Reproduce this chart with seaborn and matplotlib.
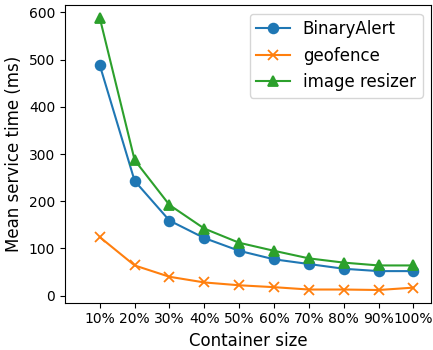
import seaborn as sns
import matplotlib.pyplot as plt

# data
sizes = ["10%", "20%", "30%", "40%", "50%", "60%", "70%", "80%", "90%", "100%"]
binary_alert = [488, 243, 159, 122, 95, 77, 67, 57, 52, 52]
geofence = [124, 64, 40, 28, 22, 18, 13, 13, 12, 17]
image_resizer = [588, 287, 192, 142, 112, 95, 79, 70, 64, 64]

names = ["BinaryAlert", "geofence", "image resizer"]
values = [binary_alert, geofence, image_resizer]
colors = ["#1f77b4", "#ff7f0e", "#2ca02c"]
markers = ["o", "x", "^"]
pos = list(range(len(sizes)))

fig, ax = plt.subplots(figsize=(4.33, 3.5), dpi=100)
for name, vals, c, m in zip(names, values, colors, markers):
    sns.lineplot(x=pos, y=vals, color=c, marker=m, markersize=7,
                 markeredgecolor=c, markeredgewidth=1.3, label=name, ax=ax)

ax.set_xticks(pos)
ax.set_xticklabels(sizes)
ax.set_xlim(-1, 9.5)
ax.set_ylim(-15, 615)
ax.set_yticks([0, 100, 200, 300, 400, 500, 600])
ax.tick_params(labelsize=10)
ax.set_xlabel("Container size", fontsize=12)
ax.set_ylabel("Mean service time (ms)", fontsize=12)
ax.legend(fontsize=12, loc="upper right")

fig.subplots_adjust(left=0.15, right=0.995, top=0.985, bottom=0.135)
fig.savefig("out.png", dpi=100)
